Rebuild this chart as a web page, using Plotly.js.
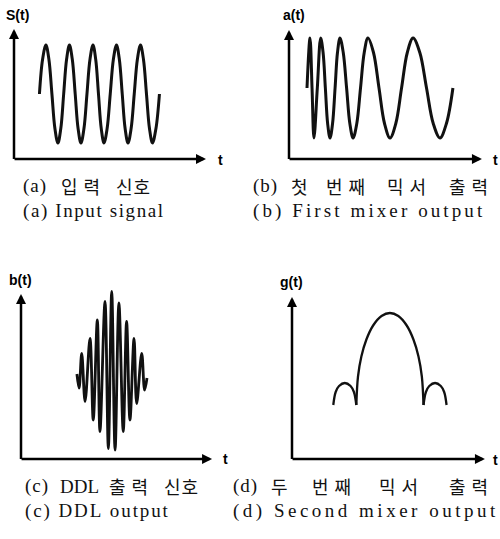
<!DOCTYPE html>
<html><head><meta charset="utf-8">
<script src="https://cdn.plot.ly/plotly-3.0.1.min.js"></script>
<style>body{margin:0;background:#fff}#chart{width:500px;height:539px}</style>
</head><body><div id="chart"></div>
<script>
// (a) input signal: points (peaks, troughs, mid crossings, shoulders)
const aT = [1.06,1.19,1.33,1.455,1.58,1.705,1.83,1.95,2.07,2.19,2.31,2.43,2.55,2.67,2.79,2.915,3.04,3.165,3.29,3.405,3.52,3.635,3.75,3.88,4.01,4.14,4.27,4.39,4.51,4.63,4.75,4.88,5.01,5.14,5.27,5.395,5.52,5.645,5.77,5.915,6.06];
const aY = [0,0.69,0.98,0.69,0,-0.69,-0.98,-0.69,0,0.69,0.98,0.69,0,-0.69,-0.98,-0.69,0,0.69,0.98,0.69,0,-0.69,-0.98,-0.69,0,0.69,0.98,0.69,0,-0.69,-0.98,-0.69,0,0.69,0.98,0.69,0,-0.69,-0.98,-0.69,0];
// (b) first mixer output (down-chirp)
const bT = [0.75,0.875,0.96,1.04,1.18,1.32,1.42,1.515,1.61,1.71,1.815,1.92,2.02,2.125,2.26,2.40,2.535,2.67,2.825,2.98,3.135,3.29,3.52,3.75,3.98,4.21,4.45,4.69,4.93,5.17,5.45,5.73,6.01,6.29,6.56,6.83];
const bY = [0.12,1.12,0.12,-0.88,0.12,1.12,0.83,0.12,-0.59,-0.88,-0.59,0.12,0.83,1.12,0.83,0.12,-0.59,-0.88,-0.59,0.12,0.83,1.12,0.83,0.12,-0.59,-0.88,-0.59,0.12,0.83,1.12,0.83,0.12,-0.59,-0.88,-0.59,0.12];
// (c) DDL output (compressed pulse)
const cT = [2.33,2.42,2.53,2.67,2.875,3.01,3.18,3.29,3.5,3.64,3.78,3.92,4.08,4.26,4.40,4.54,4.71,4.82,5.03,5.15,5.25];
const cY = [0.02,-0.26,0.43,-0.53,0.73,-0.90,1.10,-1.13,1.47,-1.47,1.67,-1.50,1.44,-1.13,1.07,-0.90,0.73,-0.57,0.43,-0.30,-0.06];
// (d) second mixer output (three arches)
const dT = [1.72,1.82,1.96,2.20,2.44,2.58,2.68,null,2.68,2.75,2.89,3.10,3.38,3.73,4.08,4.43,4.78,5.06,5.27,5.41,5.48,null,5.48,5.58,5.72,5.96,6.20,6.34,6.44];
const dY = [0,0.26,0.38,0.44,0.38,0.26,0,null,0,0.57,0.97,1.31,1.59,1.78,1.84,1.78,1.59,1.31,0.97,0.57,0,null,0,0.26,0.38,0.44,0.38,0.26,0];

// axis arrows (data units): origin and tips
const axisOrigin = [[0,-1.3],[0,-1.3],[0,-1.68],[0,-1.08]];
const axisTip = [[8.0,1.3],[8.04,1.28],[7.96,1.62],[8.04,2.16]];
const axisLabels = ['S(t)','a(t)','b(t)','g(t)'];
const captionsKo = ['(a) 입력 신호','(b) 첫 번째 믹서 출력','(c) DDL 출력 신호','(d) 두 번째 믹서 출력'];
const captionsEn = ['(a) Input signal','(b) First mixer output','(c) DDL output','(d) Second mixer output'];

const W=500,H=539,SX=24,SY=50;
// layout geometry (pixels)
const quad = [[0,250,0,172],[250,500,0,172],[0,250,262,472],[250,500,262,472]];
const originPx = [[14,159],[289,159],[21,459],[292,459]];
const labelPx = [[17,15],[294,15],[20,280],[291,282]];
const tPx = [[220,160],[495,160],[225,459],[495,460]];
const capPx = [[21,186,211],[251,186,211],[23,486,511],[231,486,511]];
// left edge of each word of the Korean captions (pixels)
const koWordPx = [[23,62,117],[253,292,327,388,450],[25,60,110,165],[233,272,313,380,450]];
const lsEn = [1.6,3.1,1.9,3.5];
const widths = [3,3,2.8,2.3];

const series = [[aT,aY],[bT,bY],[cT,cY],[dT,dY]];
const traces=[]; const layout={width:W,height:H,margin:{l:0,r:0,t:0,b:0},showlegend:false,
  paper_bgcolor:'#fff',plot_bgcolor:'rgba(0,0,0,0)',annotations:[]};
const ann=layout.annotations;
for(let i=0;i<4;i++){
  const s=i?String(i+1):'';
  const [qx0,qx1,qy0,qy1]=quad[i];
  const [ox,oy]=originPx[i];
  const [x0,y0]=axisOrigin[i];
  layout['xaxis'+s]={domain:[qx0/W,qx1/W],range:[x0+(qx0-ox)/SX,x0+(qx1-ox)/SX],visible:false,anchor:'y'+s,fixedrange:true};
  layout['yaxis'+s]={domain:[1-qy1/H,1-qy0/H],range:[y0+(oy-qy1)/SY,y0+(oy-qy0)/SY],visible:false,anchor:'x'+s,fixedrange:true};
  traces.push({x:series[i][0],y:series[i][1],xaxis:'x'+s,yaxis:'y'+s,mode:'lines',
    line:{shape:'spline',smoothing:1,color:'#111',width:widths[i]},hoverinfo:'skip',cliponaxis:false});
}
for(let i=0;i<4;i++){
  const s=i?String(i+1):'';
  const [x0,y0]=axisOrigin[i],[xt,yt]=axisTip[i];
  const base={xref:'x'+s,yref:'y'+s,axref:'x'+s,ayref:'y'+s,text:'',showarrow:true,arrowhead:2,arrowsize:0.8,arrowwidth:2.5,arrowcolor:'#000',standoff:0,startstandoff:0};
  ann.push(Object.assign({},base,{x:xt,y:y0,ax:x0-0.04,ay:y0}));
  ann.push(Object.assign({},base,{x:x0,y:yt,ax:x0,ay:y0-0.03}));
}
const boldFont={family:'Liberation Sans, Arial, sans-serif',size:14,color:'#000',weight:700};
for(let i=0;i<4;i++){
  ann.push({xref:'paper',yref:'paper',x:labelPx[i][0]/W,y:1-labelPx[i][1]/H,text:'<b>'+axisLabels[i]+'</b>',showarrow:false,font:boldFont,xanchor:'center',yanchor:'middle'});
  ann.push({xref:'paper',yref:'paper',x:tPx[i][0]/W,y:1-tPx[i][1]/H,text:'<b>t</b>',showarrow:false,font:boldFont,xanchor:'center',yanchor:'middle'});
}
const capFont={family:"Liberation Serif, Noto Sans CJK KR, serif",size:19,color:'#111'};
const koFont={family:"Noto Sans CJK KR, Liberation Serif, sans-serif",size:18,color:'#111'};
const NB='\u00A0';
const isKo=w=>/[\uAC00-\uD7A3]/.test(w);
for(let i=0;i<4;i++){
  // Korean caption, word by word
  captionsKo[i].split(' ').forEach((w,j)=>{
    const ko=isKo(w);
    const ls=ko?(w.length>1?(w==='신호'?1:6):0):(w.startsWith('(')?1:0);
    ann.push({xref:'paper',yref:'paper',x:(koWordPx[i][j]-(ko?3:2))/W,y:1-capPx[i][1]/H,
      text:'<span style="letter-spacing:'+ls+'px">'+w+'</span>',showarrow:false,font:ko?koFont:capFont,xanchor:'left',yanchor:'middle'});
  });
  const enText='<span style="letter-spacing:'+lsEn[i]+'px">'+captionsEn[i].replace(/ /g,NB)+'</span>';
  ann.push({xref:'paper',yref:'paper',x:capPx[i][0]/W,y:1-capPx[i][2]/H,text:enText,showarrow:false,font:capFont,xanchor:'left',yanchor:'middle'});
}
Plotly.newPlot('chart',traces,layout,{staticPlot:true,displayModeBar:false});
</script></body></html>
